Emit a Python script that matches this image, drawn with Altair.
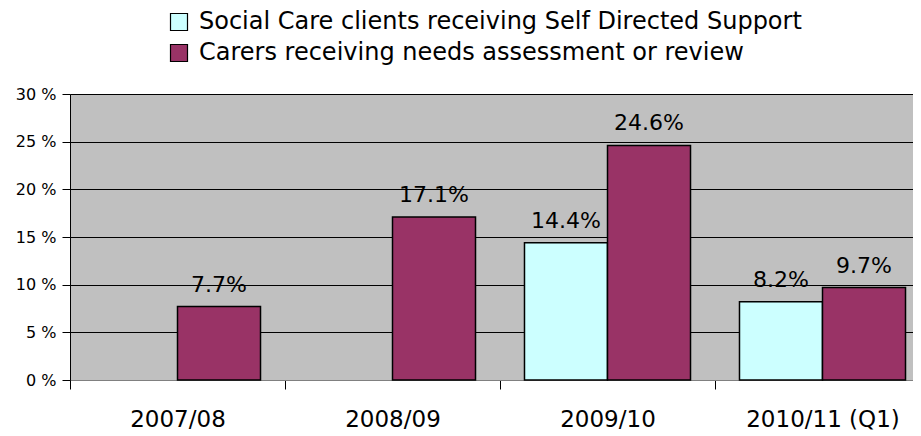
import altair as alt
import pandas as pd

years = ["2007/08", "2008/09", "2009/10", "2010/11 (Q1)"]
series = ["Social Care clients receiving Self Directed Support",
          "Carers receiving needs assessment or review"]
sds = [None, None, 14.4, 8.2]
carers = [7.7, 17.1, 24.6, 9.7]
colors = ["#CCFFFF", "#993366"]
y_ticks = [0, 5, 10, 15, 20, 25, 30]

rows = []
for i, yr in enumerate(years):
    for s, vals in zip(series, [sds, carers]):
        if vals[i] is not None:
            rows.append({"year": yr, "series": s, "value": vals[i]})
df = pd.DataFrame(rows)

FONT = "DejaVu Sans"

x = alt.X("year:N", sort=years, title=None,
          scale=alt.Scale(paddingInner=0, paddingOuter=0, range=[0, 860]),
          axis=alt.Axis(labelAngle=0, labelFontSize=23, labelFont=FONT, labelColor="black",
                        tickBand="extent", tickSize=9, tickColor="black", tickWidth=1,
                        domainColor="#808080", labelPadding=19, grid=False))
xo = alt.XOffset("series:N", sort=series,
                 scale=alt.Scale(paddingInner=0, paddingOuter=0.295))
y = alt.Y("value:Q", title=None,
          scale=alt.Scale(domain=[0, 30], nice=False),
          axis=alt.Axis(values=y_ticks, labelExpr="datum.value + ' %'",
                        labelFontSize=16, labelFont=FONT, labelColor="black",
                        tickSize=8, tickColor="black", domainColor="black",
                        gridColor="black", gridWidth=1.2, gridOpacity=1, labelPadding=6))

color = alt.Color("series:N", sort=series, title=None,
                  scale=alt.Scale(domain=series, range=colors),
                  legend=alt.Legend(orient="none", legendX=97, legendY=-84,
                                    symbolType="square", symbolSize=289,
                                    symbolStrokeColor="black", symbolStrokeWidth=1.2,
                                    labelFontSize=24, labelFont=FONT, labelColor="black",
                                    labelOffset=8, rowPadding=7, labelLimit=800))

bars = alt.Chart(df).mark_bar(stroke="black", strokeWidth=1.5).encode(
    x=x, xOffset=xo, y=y, color=color)

labels = alt.Chart(df).transform_calculate(
    label="format(datum.value, '.1f') + '%'"
).mark_text(baseline="alphabetic", dy=-15, fontSize=22, font=FONT, color="black").encode(
    x=alt.X("year:N", sort=years), xOffset=alt.XOffset("series:N", sort=series),
    y="value:Q", text="label:N")

chart = alt.layer(bars, labels).properties(
    width=843, height=286,
    autosize=alt.AutoSizeParams(type="none"),
    padding={"left": 62, "top": 86, "right": 0, "bottom": 52},
    background="white",
).configure_view(fill="#C0C0C0", stroke="#A0A0A0", strokeWidth=1)

chart.save("out.html", embed_options={"renderer": "svg", "actions": False})
